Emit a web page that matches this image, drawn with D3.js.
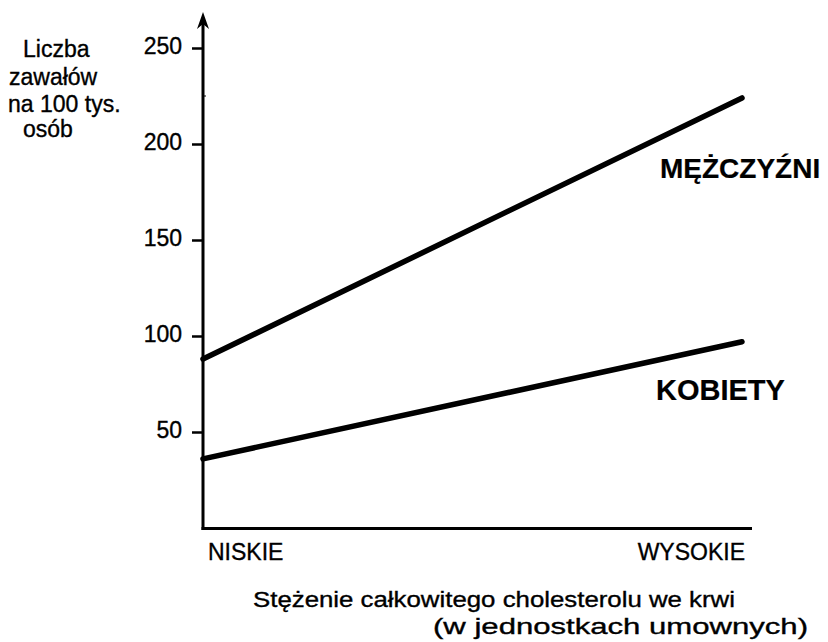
<!DOCTYPE html>
<html><head><meta charset="utf-8">
<script src="https://cdn.jsdelivr.net/npm/d3@7"></script>
<style>body{margin:0;background:#fff}svg{display:block}text{font-family:"Liberation Sans",Arial,sans-serif;fill:#000;stroke:#000;stroke-width:0.35px}</style>
</head><body><svg id="c" width="828" height="642"></svg>
<script>
const categories = ["NISKIE", "WYSOKIE"];
const menValues = [88, 224];
const womenValues = [36, 97];
const yTicks = [50, 100, 150, 200, 250];
const seriesNames = ["MĘŻCZYŹNI", "KOBIETY"];
const yLabelLines = ["Liczba", "zawałów", "na 100 tys.", "osób"];
const xTitleLines = ["Stężenie całkowitego cholesterolu we krwi", "(w jednostkach umownych)"];

const svg = d3.select("#c");
const x = d3.scaleLinear().domain([0, 1]).range([203, 742]);
const y = d3.scaleLinear().domain([0, 250]).range([528, 48]);

// y axis ticks
const yAxis = d3.axisLeft(y).tickValues(yTicks).tickSize(11).tickPadding(10).tickFormat(d3.format("d"));
const gy = svg.append("g").attr("transform", "translate(203,0)").call(yAxis);
gy.select(".domain").remove();
gy.selectAll(".tick line").attr("stroke", "#000").attr("stroke-width", 2.5);
gy.selectAll(".tick text").attr("dy", "5px").attr("x", -21).style("font-size", "23px").style("font-family", null);
// minor tick
svg.append("line").attr("x1", 203).attr("x2", 206).attr("y1", y(225)).attr("y2", y(225)).attr("stroke", "#000").attr("stroke-width", 1);

svg.append("line").attr("x1", 203).attr("x2", 203).attr("y1", 20).attr("y2", 530).attr("stroke", "#000").attr("stroke-width", 3);
svg.append("path").attr("d", "M203,12 L197,29 L203,24 L209,29 Z").attr("fill", "#000");
svg.append("line").attr("x1", 201.5).attr("x2", 752).attr("y1", 528.5).attr("y2", 528.5).attr("stroke", "#000").attr("stroke-width", 3);

// x labels
svg.selectAll(".xl").data(categories).enter().append("text")
  .attr("x", (d, i) => i === 0 ? 208 : 745)
  .attr("text-anchor", (d, i) => i === 0 ? "start" : "end")
  .attr("y", 560).style("font-size", "23px").text(d => d);

// lines
const line = d3.line().x((d, i) => x(i)).y(d => y(d));
[menValues, womenValues].forEach(v => {
  svg.append("path").attr("d", line(v)).attr("fill", "none").attr("stroke", "#000").attr("stroke-width", 5.5).attr("stroke-linecap", "round");
});

svg.append("text").attr("x", 660).attr("y", 178).style("font-size", "28px").style("font-weight", "bold").style("stroke-width", "0.2px").text(seriesNames[0]);
svg.append("text").attr("x", 656).attr("y", 400).style("font-size", "29px").style("font-weight", "bold").style("stroke-width", "0.2px").text(seriesNames[1]);

// y label
const ylabX = [23, 9, 8, 23];
const ylabY = [57, 85, 112, 137];
yLabelLines.forEach((d, i) => svg.append("text").attr("x", ylabX[i]).attr("y", ylabY[i]).style("font-size", "23px").text(d));

svg.append("text").attr("x", 253).attr("y", 607).style("font-size", "22px")
  .attr("textLength", 482).attr("lengthAdjust", "spacingAndGlyphs").text(xTitleLines[0]);
svg.append("text").attr("x", 433).attr("y", 634).style("font-size", "22px")
  .attr("textLength", 375).attr("lengthAdjust", "spacingAndGlyphs").text(xTitleLines[1]);
</script></body></html>
